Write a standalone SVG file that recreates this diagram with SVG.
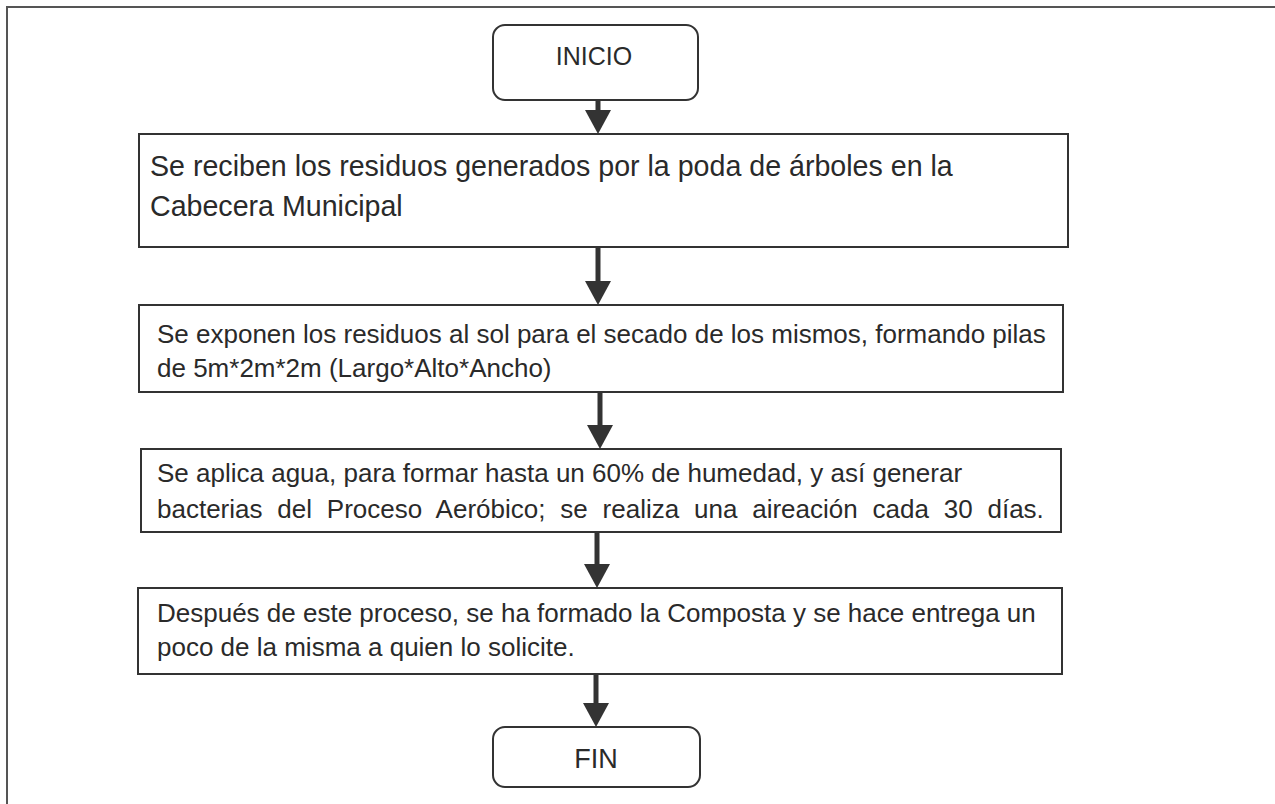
<svg xmlns="http://www.w3.org/2000/svg" width="1275" height="804" viewBox="0 0 1275 804">
<style>
.box{fill:#fff;stroke:#333;stroke-width:2}
.t{font-family:"Liberation Sans",Arial,sans-serif;fill:#2a2a2a}
.c{text-anchor:middle}
.shaft{stroke:#333;stroke-width:5}
.head{fill:#333}
.frame{stroke:#555;stroke-width:2;fill:none}
</style>
<rect width="1275" height="804" fill="#fff"/>
<path class="frame" d="M7,804 V7 H1275"/>
<g id="connectors">
<line class="shaft" x1="598" y1="100" x2="598" y2="112"/><polygon class="head" points="585,110 611,110 598,134"/>
<line class="shaft" x1="598" y1="247" x2="598" y2="283"/><polygon class="head" points="585,281 611,281 598,305"/>
<line class="shaft" x1="600" y1="392" x2="600" y2="427"/><polygon class="head" points="587,425 613,425 600,449"/>
<line class="shaft" x1="597" y1="532" x2="597" y2="566"/><polygon class="head" points="584,564 610,564 597,588"/>
<line class="shaft" x1="596" y1="674" x2="596" y2="705"/><polygon class="head" points="583,703 609,703 596,727"/>
</g>
<g id="inicio">
<rect class="box" x="493" y="25" width="205" height="75" rx="12"/>
<text class="t c" x="594" y="65" font-size="25">INICIO</text>
</g>
<g id="step1">
<rect class="box" x="139" y="134" width="929" height="113"/>
<text class="t" x="150" y="176" font-size="28.6">Se reciben los residuos generados por la poda de árboles en la</text>
<text class="t" x="150" y="216" font-size="28.6">Cabecera Municipal</text>
</g>
<g id="step2">
<rect class="box" x="139" y="305" width="924" height="87"/>
<text class="t" x="157" y="343" font-size="26">Se exponen los residuos al sol para el secado de los mismos, formando pilas</text>
<text class="t" x="157" y="377" font-size="26">de 5m*2m*2m (Largo*Alto*Ancho)</text>
</g>
<g id="step3">
<rect class="box" x="141" y="449" width="920" height="83"/>
<text class="t" x="157" y="482" font-size="26">Se aplica agua, para formar hasta un 60% de humedad, y así generar</text>
<text class="t" x="157" y="518" font-size="26" word-spacing="7.6">bacterias del Proceso Aeróbico; se realiza una aireación cada 30 días.</text>
</g>
<g id="step4">
<rect class="box" x="138" y="588" width="924" height="86"/>
<text class="t" x="157" y="622" font-size="26">Después de este proceso, se ha formado la Composta y se hace entrega un</text>
<text class="t" x="157" y="656" font-size="26">poco de la misma a quien lo solicite.</text>
</g>
<g id="fin">
<rect class="box" x="493" y="727" width="207" height="60" rx="12"/>
<text class="t c" x="596" y="768" font-size="27">FIN</text>
</g>
</svg>
